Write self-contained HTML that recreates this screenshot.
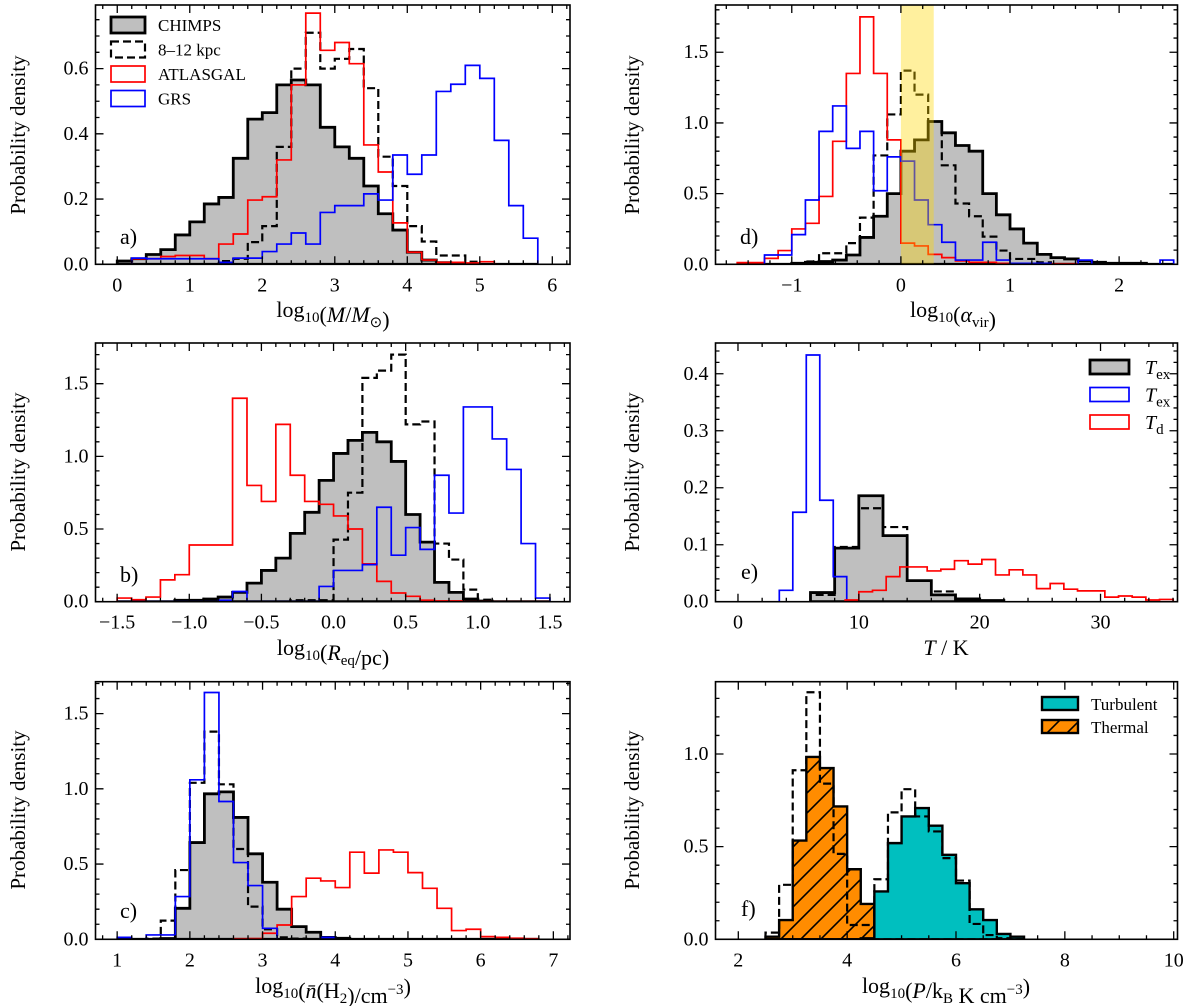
<!DOCTYPE html>
<html><head><meta charset="utf-8"><title>Histograms</title>
<style>
html,body{margin:0;padding:0;background:#fff;}
svg{display:block;}
text{font-family:"Liberation Serif",serif;fill:#000;}
</style></head>
<body>
<svg id="fig" width="1200" height="1006" viewBox="0 0 1200 1006" xmlns="http://www.w3.org/2000/svg">
<defs>
<pattern id="hatch" patternUnits="userSpaceOnUse" width="20" height="20">
<rect width="20" height="20" fill="#ff8c00"/>
<path d="M-5,5 L5,-5 M0,20 L20,0 M15,25 L25,15" stroke="#000" stroke-width="1.6"/>
</pattern>
</defs>
</svg>
<script>
// ---------- Panel a: mass ----------
const aBinStart = 0.0, aBinWidth = 0.2;
const aChimps = [0.01,0.017,0.03,0.045,0.09,0.13,0.185,0.205,0.325,0.445,0.465,0.55,0.565,0.55,0.42,0.36,0.325,0.24,0.155,0.105,0.037,0.013,0.005,0.003,0,0,0,0,0];
const aFar = [0,0,0,0,0,0,0,0.01,0.017,0.068,0.117,0.36,0.6,0.71,0.6,0.63,0.66,0.54,0.33,0.24,0.117,0.07,0.027,0.027,0.008,0,0,0,0];
const aAtlas = [0,0.017,0.017,0.024,0.027,0.027,0.017,0.062,0.093,0.197,0.207,0.32,0.55,0.77,0.656,0.68,0.615,0.366,0.283,0.127,0.037,0.013,0.006,0.006,0.004,0.008,0,0,0];
const aGrs = [0,0.019,0.017,0.017,0.017,0.017,0.017,0.006,0.019,0.019,0.039,0.062,0.096,0.062,0.159,0.18,0.18,0.216,0.197,0.335,0.276,0.335,0.53,0.552,0.61,0.57,0.38,0.18,0.08];
const aXTicks = [0,1,2,3,4,5,6];
const aXTickLabels = ["0","1","2","3","4","5","6"];
const aYTicks = [0,0.2,0.4,0.6];
const aYTickLabels = ["0.0","0.2","0.4","0.6"];

// ---------- Panel d: virial parameter ----------
const dBinStart = -1.5, dBinWidth = 0.125;
const dChimps = [0,0,0,0,0.007,0.014,0.02,0.03,0.066,0.19,0.34,0.5,0.8,0.88,1.01,0.93,0.84,0.8,0.5,0.35,0.25,0.15,0.07,0.047,0.038,0.024,0.014,0.007,0.007,0.007,0,0];
const dFar = [0,0,0,0,0,0.02,0.078,0.078,0.15,0.33,0.77,1.06,1.37,1.2,1.01,0.7,0.43,0.34,0.196,0.097,0.038,0.038,0.014,0,0,0,0,0,0,0,0,0];
const dAtlas = [0.012,0.012,0.042,0.097,0.25,0.29,0.48,0.87,1.35,1.75,1.35,0.88,0.15,0.13,0.07,0.047,0.024,0.014,0.014,0.007,0.004,0.004,0.004,0.004,0.004,0,0,0,0,0,0,0];
const dGrs = [0,0,0.066,0.066,0.21,0.455,0.94,1.12,0.82,0.94,0.52,0.76,0.73,0.455,0.28,0.156,0.03,0.03,0.156,0.03,0.007,0.007,0.007,0,0,0.03,0,0,0,0,0,0.03];
const dBand = [0, 0.301];
const dXTicks = [-1,0,1,2];
const dXTickLabels = ["\u22121","0","1","2"];
const dYTicks = [0,0.5,1.0,1.5];
const dYTickLabels = ["0.0","0.5","1.0","1.5"];

// ---------- Panel b: radius ----------
const bBinStart = -1.5, bBinWidth = 0.1;
const bChimps = [0,0,0,0,0.01,0.01,0.018,0.032,0.064,0.128,0.215,0.3,0.47,0.615,0.835,1.02,1.11,1.165,1.1,0.965,0.6,0.41,0.133,0.064,0.018,0.005,0,0,0,0];
const bFar = [0,0,0,0,0,0,0,0,0,0,0,0,0.01,0.01,0.01,0.427,0.75,1.54,1.59,1.7,1.22,1.24,0.4,0.29,0.083,0.014,0,0,0,0];
const bAtlas = [0.025,0.014,0.032,0.15,0.186,0.39,0.39,0.39,1.4,0.8,0.69,1.22,0.87,0.69,0.67,0.59,0.5,0.26,0.14,0.06,0.037,0.01,0.005,0.005,0,0,0,0,0,0];
const bGrs = [0,0,0,0,0,0,0,0.01,0.07,0,0,0,0,0,0.105,0.215,0.215,0.255,0.65,0.32,0.51,0.36,0.87,0.61,1.34,1.34,1.12,0.91,0.4,0.025];
const bXTicks = [-1.5,-1.0,-0.5,0,0.5,1.0,1.5];
const bXTickLabels = ["\u22121.5","\u22121.0","\u22120.5","0.0","0.5","1.0","1.5"];
const bYTicks = [0,0.5,1.0,1.5];
const bYTickLabels = ["0.0","0.5","1.0","1.5"];

// ---------- Panel e: temperature ----------
const eChimpsStart = 6.0, eChimpsWidth = 2.0;
const eChimps = [0.016,0.094,0.186,0.116,0.037,0.012,0.005,0.002];
const eFar = [0.012,0.096,0.164,0.131,0.037,0.018,0.005,0];
const eGrsStart = 3.42, eGrsWidth = 1.116;
const eGrs = [0.02,0.157,0.433,0.178,0.044];
const eDustStart = 8.87, eDustWidth = 1.131;
const eDust = [0.003,0.0175,0.02,0.044,0.061,0.061,0.054,0.057,0.072,0.066,0.074,0.047,0.056,0.047,0.023,0.032,0.022,0.019,0.019,0.008,0.01,0.008,0.003,0.004];
const eXTicks = [0,10,20,30];
const eXTickLabels = ["0","10","20","30"];
const eYTicks = [0,0.1,0.2,0.3,0.4];
const eYTickLabels = ["0.0","0.1","0.2","0.3","0.4"];

// ---------- Panel c: density ----------
const cBinStart = 1.0, cBinWidth = 0.2;
const cChimps = [0,0,0,0.005,0.206,0.643,0.967,0.98,0.81,0.568,0.379,0.2,0.084,0.047,0.013,0.007,0,0,0,0,0,0,0,0,0,0,0,0,0];
const cFar = [0,0,0.005,0.124,0.46,1.04,1.38,1.03,0.6,0.217,0.067,0.013,0.005,0,0,0,0,0,0,0,0,0,0,0,0,0,0,0,0];
const cAtlas = [0,0,0,0,0,0,0,0,0.004,0.005,0.04,0.095,0.284,0.406,0.388,0.344,0.579,0.44,0.594,0.579,0.443,0.339,0.206,0.058,0.067,0.018,0.013,0.007,0.004];
const cGrs = [0.013,0,0.029,0.029,0.284,1.06,1.64,0.916,0.51,0.357,0.073,0,0,0,0.013,0,0,0,0,0,0,0,0,0,0,0,0,0,0];
const cXTicks = [1,2,3,4,5,6,7];
const cXTickLabels = ["1","2","3","4","5","6","7"];
const cYTicks = [0,0.5,1.0,1.5];
const cYTickLabels = ["0.0","0.5","1.0","1.5"];

// ---------- Panel f: pressure ----------
const fBinStart = 2.5, fBinWidth = 0.25;
const fThermal = [0.014,0.104,0.533,0.984,0.924,0.717,0.378,0.191,0.059,0.014,0.004,0,0,0,0,0,0,0,0];
const fTurbulent = [0,0,0,0,0,0,0,0.005,0.258,0.519,0.663,0.708,0.613,0.456,0.303,0.162,0.104,0.029,0.014];
const fThermalFar = [0.036,0.294,0.912,1.333,0.84,0.461,0.077,0.077,0,0,0,0,0,0,0,0,0,0,0];
const fTurbulentFar = [0,0,0,0,0,0,0,0,0.324,0.685,0.81,0.663,0.582,0.438,0.317,0.083,0.023,0.006,0];
const fXTicks = [2,4,6,8,10];
const fXTickLabels = ["2","4","6","8","10"];
const fYTicks = [0,0.5,1.0];
const fYTickLabels = ["0.0","0.5","1.0"];

const NS = "http://www.w3.org/2000/svg";
const svg = document.getElementById('fig');
function mk(tag, attrs, parent){
  const e = document.createElementNS(NS, tag);
  for (const k in attrs) e.setAttribute(k, attrs[k]);
  (parent||svg).appendChild(e);
  return e;
}

function makePanel(id, L, R, T, B, xmin, xmax, ymax){
  const g = mk('g', {});
  
  
  const cp = mk('clipPath', {id: 'clip-' + id}, svg.querySelector('defs'));
  mk('rect', {x: L, y: T, width: R - L, height: B - T}, cp);
  const plot = mk('g', {'clip-path': 'url(#clip-' + id + ')'}, g);
  
  
  return {g, plot, L, R, T, B,
    sx: v => L + (v - xmin) / (xmax - xmin) * (R - L),
    sy: v => B - v / ymax * (B - T), xmin, xmax, ymax};
}

function stepD(p, x0, w, h, closed){
  let d = 'M' + p.sx(x0) + ',' + p.sy(0);
  for (let i = 0; i < h.length; i++){
    d += ' L' + p.sx(x0 + i * w) + ',' + p.sy(h[i]) + ' L' + p.sx(x0 + (i + 1) * w) + ',' + p.sy(h[i]);
  }
  d += ' L' + p.sx(x0 + h.length * w) + ',' + p.sy(0);
  if (closed) d += ' Z';
  return d;
}

function hist(p, name, x0, w, h, style){
  const path = mk('path', Object.assign({d: stepD(p, x0, w, h, !!style.fill && style.fill !== 'none'), 'stroke-linejoin': 'miter'}, style), p.plot);
  
  
  return path;
}

function axes(p, xt, xl, xminor, yt, yl, yminor){
  const ax = mk('g', {}, p.g);
  
  
  const tk = [];
  for (let v = Math.ceil(p.xmin / xminor) * xminor; v <= p.xmax + 1e-9; v += xminor){
    const x = p.sx(v);
    tk.push('M' + x + ',' + p.B + 'v-4 M' + x + ',' + p.T + 'v4');
  }
  xt.forEach(v => { const x = p.sx(v); tk.push('M' + x + ',' + p.B + 'v-8 M' + x + ',' + p.T + 'v8'); });
  for (let v = 0; v <= p.ymax + 1e-9; v += yminor){
    const y = p.sy(v);
    tk.push('M' + p.L + ',' + y + 'h4 M' + p.R + ',' + y + 'h-4');
  }
  yt.forEach(v => { const y = p.sy(v); tk.push('M' + p.L + ',' + y + 'h8 M' + p.R + ',' + y + 'h-8'); });
  const ticks = mk('path', {d: tk.join(' '), stroke: '#000', 'stroke-width': 1.3, fill: 'none'}, ax);
  
  
  const fr = mk('rect', {x: p.L, y: p.T, width: p.R - p.L, height: p.B - p.T, fill: 'none', stroke: '#000', 'stroke-width': 1.6}, ax);
  
  
  xt.forEach((v, i) => {
    const t = mk('text', {x: p.sx(v), y: p.B + 27, 'font-size': 20, 'text-anchor': 'middle'}, ax);
    t.textContent = xl[i];
    
    
  });
  yt.forEach((v, i) => {
    const t = mk('text', {x: p.L - 7, y: p.sy(v) + 6, 'font-size': 20, 'text-anchor': 'end'}, ax);
    t.textContent = yl[i];
    
    
  });
}

function htmlText(parent, x, y, size, anchor, html, name, rot){
  const t = mk('text', {x: x, y: y, 'font-size': size, 'text-anchor': anchor}, parent);
  if (rot) t.setAttribute('transform', 'rotate(-90 ' + x + ' ' + y + ')');
  t.innerHTML = html;
  
  
  return t;
}

const GRAY = {fill: '#bfbfbf', stroke: '#000', 'stroke-width': 2.8};
const DASH = {fill: 'none', stroke: '#000', 'stroke-width': 2.2, 'stroke-dasharray': '8,4'};
const RED = {fill: 'none', stroke: '#ff0000', 'stroke-width': 1.7};
const BLUE = {fill: 'none', stroke: '#0000ff', 'stroke-width': 1.7};

const sub = s => '<tspan font-size="15" dy="5">' + s + '</tspan><tspan dy="-5"></tspan>';
const sup = s => '<tspan font-size="15" dy="-9">' + s + '</tspan><tspan dy="9"></tspan>';

// ===== Panel a =====
const pa = makePanel('a', 95.5, 570, 5, 264.3, -0.3, 6.244, 0.795);
hist(pa, 'chimps-hist', aBinStart, aBinWidth, aChimps, GRAY);
hist(pa, 'far-8-12kpc-hist', aBinStart, aBinWidth, aFar, DASH);
hist(pa, 'atlasgal-hist', aBinStart, aBinWidth, aAtlas, RED);
hist(pa, 'grs-hist', aBinStart, aBinWidth, aGrs, BLUE);
axes(pa, aXTicks, aXTickLabels, 0.2, aYTicks, aYTickLabels, 0.05);
htmlText(pa.g, 120, 244, 22, 'start', 'a)', 'panel-label');
htmlText(pa.g, 333, 317, 22, 'middle', 'log' + sub('10') + '(<tspan font-style="italic">M</tspan>/<tspan font-style="italic">M</tspan>' + sub('\u2299') + ')', 'x-axis-title');
{
  const lg = mk('g', {}, pa.g);
  
  
  const rows = [['CHIMPS', GRAY], ['8\u201312 kpc', DASH], ['ATLASGAL', RED], ['GRS', BLUE]];
  rows.forEach((r, i) => {
    const y = 17 + i * 24.5;
    const box = mk('rect', Object.assign({x: 111, y: y, width: 34, height: 16}, r[1]), lg);
    
    
    const t = mk('text', {x: 158, y: y + 14, 'font-size': 17}, lg);
    t.textContent = r[0];
    
    
  });
}

// ===== Panel d =====
const pd = makePanel('d', 715.5, 1177.5, 5, 264.3, -1.699, 2.535, 1.834);
hist(pd, 'chimps-hist', dBinStart, dBinWidth, dChimps, GRAY);
hist(pd, 'far-8-12kpc-hist', dBinStart, dBinWidth, dFar, DASH);
hist(pd, 'atlasgal-hist', dBinStart, dBinWidth, dAtlas, RED);
hist(pd, 'grs-hist', dBinStart, dBinWidth, dGrs, BLUE);
{
  const band = mk('rect', {x: pd.sx(dBand[0]), y: pd.T, width: pd.sx(dBand[1]) - pd.sx(dBand[0]), height: pd.B - pd.T, fill: '#ffd700', 'fill-opacity': 0.38}, pd.plot);
  
  
}
axes(pd, dXTicks, dXTickLabels, 0.2, dYTicks, dYTickLabels, 0.1);
htmlText(pd.g, 740, 244, 22, 'start', 'd)', 'panel-label');
htmlText(pd.g, 953, 317, 22, 'middle', 'log' + sub('10') + '(<tspan font-style="italic">\u03b1</tspan>' + sub('vir') + ')', 'x-axis-title');

// ===== Panel b =====
const pb = makePanel('b', 95.5, 570, 343, 601.7, -1.650, 1.639, 1.78);
hist(pb, 'chimps-hist', bBinStart, bBinWidth, bChimps, GRAY);
hist(pb, 'far-8-12kpc-hist', bBinStart, bBinWidth, bFar, DASH);
hist(pb, 'atlasgal-hist', bBinStart, bBinWidth, bAtlas, RED);
hist(pb, 'grs-hist', bBinStart, bBinWidth, bGrs, BLUE);
axes(pb, bXTicks, bXTickLabels, 0.1, bYTicks, bYTickLabels, 0.1);
htmlText(pb.g, 120, 582, 22, 'start', 'b)', 'panel-label');
htmlText(pb.g, 333, 655, 22, 'middle', 'log' + sub('10') + '(<tspan font-style="italic">R</tspan>' + sub('eq') + '/pc)', 'x-axis-title');

// ===== Panel e =====
const pe = makePanel('e', 715.5, 1177.5, 343, 601.7, -1.86, 36.37, 0.454);
hist(pe, 'chimps-tex-hist', eChimpsStart, eChimpsWidth, eChimps, GRAY);
hist(pe, 'far-8-12kpc-hist', eChimpsStart, eChimpsWidth, eFar, DASH);
hist(pe, 'grs-tex-hist', eGrsStart, eGrsWidth, eGrs, BLUE);
hist(pe, 'dust-td-hist', eDustStart, eDustWidth, eDust, RED);
axes(pe, eXTicks, eXTickLabels, 2, eYTicks, eYTickLabels, 0.02);
htmlText(pe.g, 741, 579, 22, 'start', 'e)', 'panel-label');
htmlText(pe.g, 946, 655, 22, 'middle', '<tspan font-style="italic">T</tspan> / K', 'x-axis-title');
{
  const lg = mk('g', {}, pe.g);
  
  
  const rows = [['<tspan font-style="italic">T</tspan>' + sub('ex'), GRAY], ['<tspan font-style="italic">T</tspan>' + sub('ex'), BLUE], ['<tspan font-style="italic">T</tspan>' + sub('d'), RED]];
  rows.forEach((r, i) => {
    const y = 360 + i * 27.5;
    const box = mk('rect', Object.assign({x: 1090, y: y, width: 39, height: 14}, r[1]), lg);
    
    
    htmlText(lg, 1145, y + 14, 20, 'start', r[0], 'legend-entry');
  });
}

// ===== Panel c =====
const pc = makePanel('c', 95.5, 570, 681.7, 939.3, 0.702, 7.229, 1.712);
hist(pc, 'chimps-hist', cBinStart, cBinWidth, cChimps, GRAY);
hist(pc, 'far-8-12kpc-hist', cBinStart, cBinWidth, cFar, DASH);
hist(pc, 'atlasgal-hist', cBinStart, cBinWidth, cAtlas, RED);
hist(pc, 'grs-hist', cBinStart, cBinWidth, cGrs, BLUE);
axes(pc, cXTicks, cXTickLabels, 0.2, cYTicks, cYTickLabels, 0.1);
htmlText(pc.g, 120, 918, 22, 'start', 'c)', 'panel-label');
htmlText(pc.g, 333, 993, 22, 'middle', 'log' + sub('10') + '(<tspan font-style="italic">n\u0304</tspan>(H' + sub('2') + ')/cm' + sup('\u22123') + ')', 'x-axis-title');

// ===== Panel f =====
const pf = makePanel('f', 715.5, 1177.5, 681.7, 939.3, 1.581, 10.07, 1.39);
hist(pf, 'thermal-hist', fBinStart, fBinWidth, fThermal, {fill: 'url(#hatch)', stroke: '#000', 'stroke-width': 2.4});
hist(pf, 'turbulent-hist', fBinStart, fBinWidth, fTurbulent, {fill: '#00bfbf', stroke: '#000', 'stroke-width': 2.4});
hist(pf, 'thermal-far-hist', fBinStart, fBinWidth, fThermalFar, DASH);
hist(pf, 'turbulent-far-hist', fBinStart, fBinWidth, fTurbulentFar, DASH);
axes(pf, fXTicks, fXTickLabels, 0.5, fYTicks, fYTickLabels, 0.1);
htmlText(pf.g, 741, 916, 22, 'start', 'f)', 'panel-label');
htmlText(pf.g, 946, 993, 22, 'middle', 'log' + sub('10') + '(<tspan font-style="italic">P</tspan>/k' + sub('B') + ' K cm' + sup('\u22123') + ')', 'x-axis-title');
{
  const lg = mk('g', {}, pf.g);
  
  
  const rows = [['Turbulent', {fill: '#00bfbf', stroke: '#000', 'stroke-width': 2.4}], ['Thermal', {fill: 'url(#hatch)', stroke: '#000', 'stroke-width': 2.4}]];
  rows.forEach((r, i) => {
    const y = 697 + i * 23;
    const box = mk('rect', Object.assign({x: 1042, y: y, width: 36, height: 13}, r[1]), lg);
    
    
    const t = mk('text', {x: 1091, y: y + 13, 'font-size': 17}, lg);
    t.textContent = r[0];
    
    
  });
}

// y-axis titles
[[18, 135], [18, 472], [18, 810], [632, 135], [632, 472], [632, 810]].forEach(c => {
  const t = htmlText(svg, c[0], c[1], 21, 'middle', 'Probability density', 'y-axis-title', true);
  t.setAttribute('dominant-baseline', 'central');
});
</script>
</body></html>
